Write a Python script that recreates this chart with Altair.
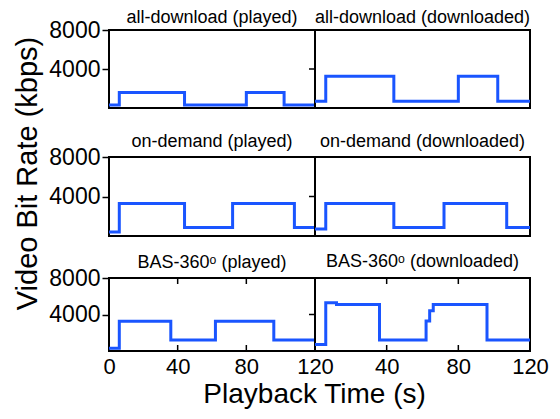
import altair as alt
import pandas as pd

FONT = "Liberation Sans"
BLUE = "#1a55ff"

# ---- data ----
x_ticks_left = [0, 40, 80, 120]
x_ticks_right = [40, 80, 120]
x_inner_ticks = [40, 80]
y_ticks = [4000, 8000]
y_mirror = [4000]

titles = [
    "all-download (played)", "all-download (downloaded)",
    "on-demand (played)", "on-demand (downloaded)",
    "BAS-360ᵒ (played)", "BAS-360ᵒ (downloaded)",
]

t_ad_played = [0, 6, 44, 80, 102, 120]
v_ad_played = [300, 1600, 300, 1600, 300, 300]

t_ad_down = [0, 6, 44, 80, 102, 120]
v_ad_down = [700, 3250, 700, 3250, 700, 700]

t_od_played = [0, 6, 44, 72, 108, 120]
v_od_played = [400, 3300, 850, 3300, 850, 850]

t_od_down = [0, 6, 44, 72, 107, 120]
v_od_down = [700, 3300, 850, 3300, 850, 850]

t_bas_played = [0, 6, 36, 62, 96, 120]
v_bas_played = [300, 3250, 1200, 3250, 1200, 1200]

t_bas_down = [0, 6, 12, 36, 62, 64, 66, 96, 120]
v_bas_down = [700, 5300, 5100, 1200, 3300, 4400, 5100, 1200, 1200]

series = [
    (t_ad_played, v_ad_played), (t_ad_down, v_ad_down),
    (t_od_played, v_od_played), (t_od_down, v_od_down),
    (t_bas_played, v_bas_played), (t_bas_down, v_bas_down),
]

WIDTHS = [206, 215]
HEIGHTS = [78, 79, 73]
TITLE_OFFSETS = [3, 6, 6]    # right-column panels
LABEL_OVERHANG = 11          # left-column titles sit above the "8000" label
ROW1_EXTRA = 10

xscale = alt.Scale(domain=[0, 120], nice=False, zero=False)
yscale = alt.Scale(domain=[0, 8000], nice=False)


def panel(idx):
    row, col = divmod(idx, 2)
    t, v = series[idx]
    w, h = WIDTHS[col], HEIGHTS[row]
    df = pd.DataFrame({"t": t, "v": v})

    if row == 2:
        xaxis = alt.Axis(values=x_ticks_left if col == 0 else x_ticks_right,
                         format="d",
                         labelFontSize=22, labelFont=FONT, labelColor="black",
                         labelFlush=False, ticks=False, labelPadding=5,
                         domain=False, grid=False, title=None)
    elif row == 0:
        # invisible axis that only adds a little room below the first row
        xaxis = alt.Axis(values=[60], labels=False, domain=False, grid=False,
                         tickColor="transparent", tickSize=ROW1_EXTRA, title=None)
    else:
        xaxis = None

    if col == 0:
        yaxis = alt.Axis(values=y_ticks, format="d", labelFontSize=23,
                         labelFont=FONT, labelColor="black", tickSize=7,
                         tickColor="black", tickWidth=1.5, labelPadding=2,
                         domain=False, grid=False, title=None)
    else:
        yaxis = None

    base = alt.Chart(df)
    line = base.mark_line(interpolate="step-after", color=BLUE, strokeWidth=3).encode(
        x=alt.X("t:Q", scale=xscale, axis=xaxis),
        y=alt.Y("v:Q", scale=yscale, axis=yaxis),
    )
    layers = [line]

    if row == 2:
        tdf = pd.DataFrame({"t": x_inner_ticks})
        top = alt.Chart(tdf).mark_rule(color="black", strokeWidth=1.5).encode(
            x=alt.X("t:Q", scale=xscale), y=alt.value(0), y2=alt.value(6))
        bot = alt.Chart(tdf).mark_rule(color="black", strokeWidth=1.5).encode(
            x=alt.X("t:Q", scale=xscale), y=alt.value(h), y2=alt.value(h - 6))
        layers += [top, bot]

    if col == 0:
        mdf = pd.DataFrame({"v": y_mirror})
        mir = alt.Chart(mdf).mark_rule(color="black", strokeWidth=1.5).encode(
            y=alt.Y("v:Q", scale=yscale), x=alt.value(w - 6), x2=alt.value(w))
        layers.append(mir)

    off = TITLE_OFFSETS[row] - (LABEL_OVERHANG if col == 0 else 0)
    return alt.layer(*layers).properties(
        width=w, height=h,
        title=alt.TitleParams(titles[idx], fontSize=18, font=FONT,
                              fontWeight="normal", color="black",
                              anchor="middle", offset=off),
    )


rows = []
for r in range(3):
    hc = alt.hconcat(panel(2 * r), panel(2 * r + 1), spacing=0, bounds="flush")
    if r == 2:
        hc = hc.properties(title=alt.TitleParams(
            "Playback Time (s)", orient="bottom", anchor="middle",
            fontSize=28, font=FONT, fontWeight="normal", color="black",
            offset=3, dx=16))
    rows.append(hc)

chart = alt.vconcat(*rows, spacing=12).properties(
    title=alt.TitleParams("Video Bit Rate (kbps)", orient="left",
                          anchor="middle", fontSize=29, font=FONT,
                          fontWeight="normal", color="black", offset=5, dx=35),
    padding={"left": 5, "top": 0, "right": 0, "bottom": 0},
    background="white",
).configure_view(
    stroke="black", strokeWidth=2
)

chart.save("out.html", embed_options={"renderer": "svg", "actions": False})
